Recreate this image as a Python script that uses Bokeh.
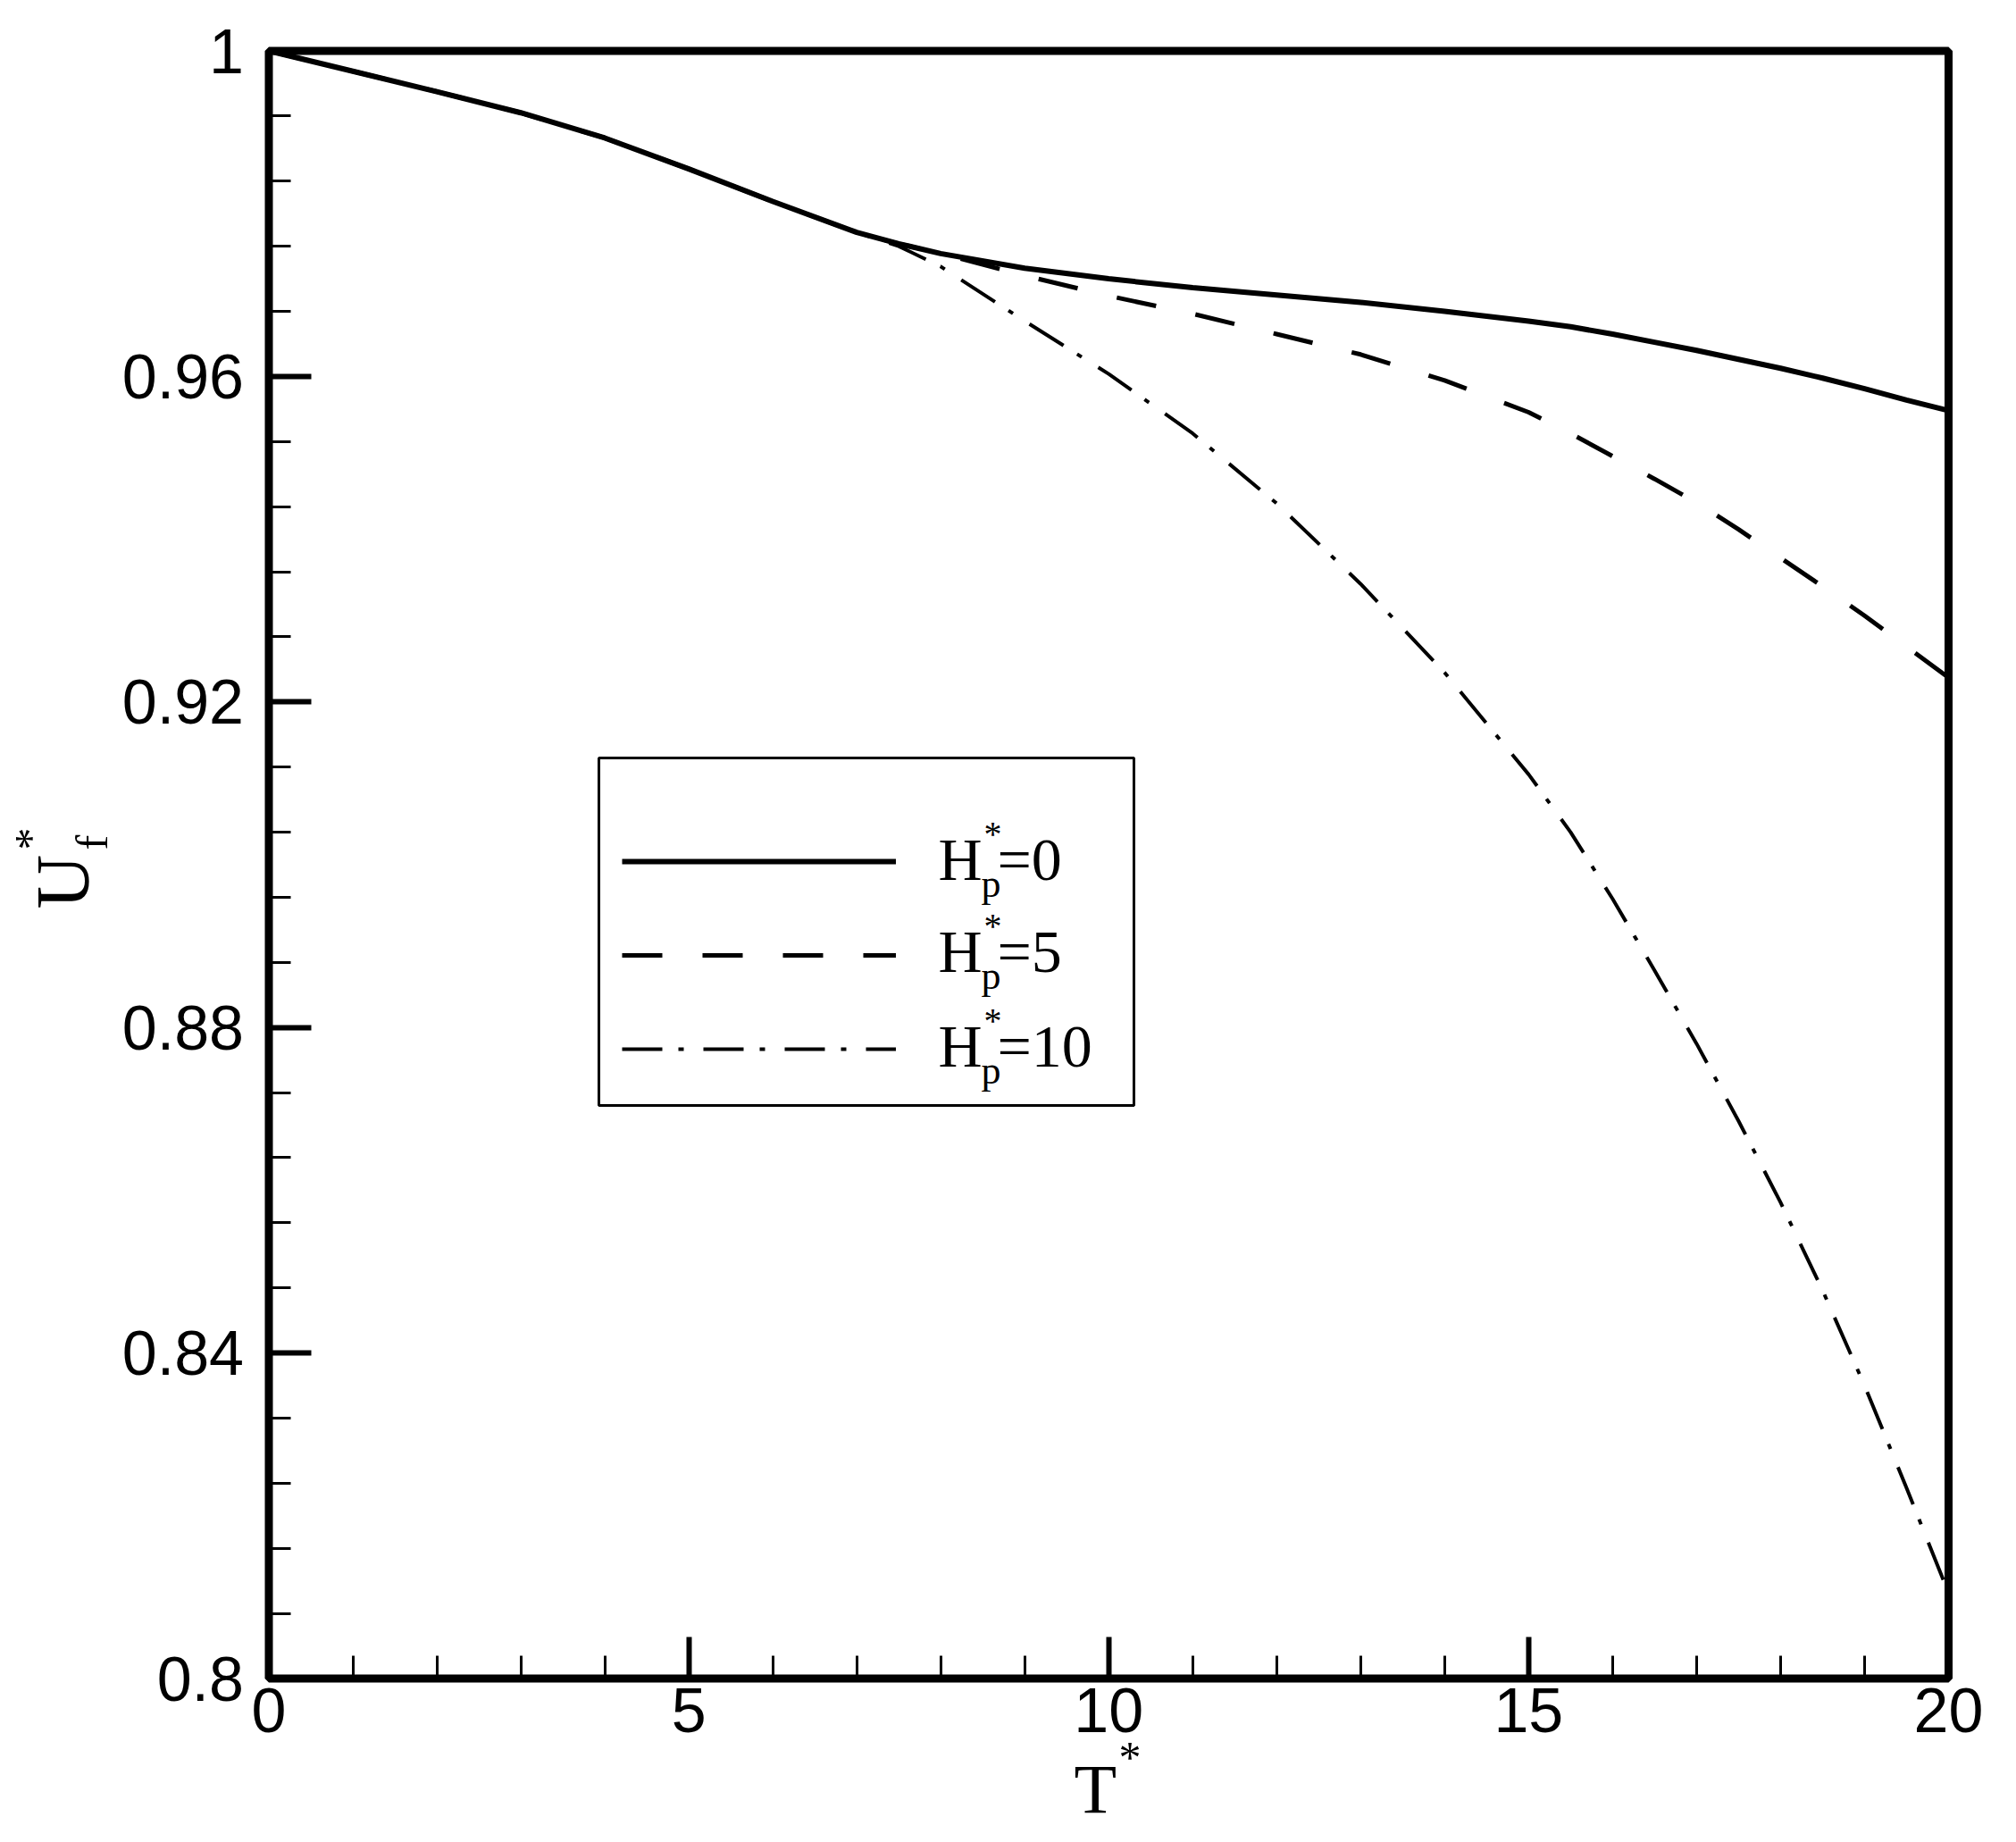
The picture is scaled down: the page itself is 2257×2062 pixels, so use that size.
import math
from bokeh.plotting import figure
from bokeh.models import (Range1d, FixedTicker, CustomJSTickFormatter, Label,
                          BoxAnnotation, Legend, LegendItem, LinearAxis)
from bokeh.embed import file_html
from bokeh.resources import INLINE

# ---------------- data ----------------
T = [0, 1, 2, 3, 4, 5, 6, 7, 7.5, 8, 9, 10, 11, 12, 13, 14, 15, 15.5, 16,
     16.5, 17, 17.5, 18, 18.5, 19, 19.5, 20]

U_hp0 = [1.0, 0.9975, 0.9950, 0.9924, 0.9893, 0.9855, 0.9815, 0.9777, 0.9763,
         0.9751, 0.9733, 0.9720, 0.9709, 0.9700, 0.9691, 0.9680, 0.9668, 0.9661,
         0.9652, 0.9642, 0.9632, 0.9621, 0.9610, 0.9598, 0.9585, 0.9571, 0.9558]

U_hp5 = [1.0, 0.9975, 0.9950, 0.9924, 0.9893, 0.9855, 0.9815, 0.9777, 0.9763,
         0.9751, 0.9724, 0.9699, 0.9677, 0.9652, 0.9627, 0.9595, 0.9556, 0.9530,
         0.9502, 0.9474, 0.9445, 0.9412, 0.9377, 0.9342, 0.9306, 0.9268, 0.9230]

U_hp10 = [1.0, 0.9975, 0.9950, 0.9924, 0.9893, 0.9855, 0.9815, 0.9777, 0.9760,
          0.9735, 0.9668, 0.9603, 0.9530, 0.9444, 0.9345, 0.9236, 0.9111, 0.9040,
          0.8958, 0.8870, 0.8780, 0.8685, 0.8585, 0.8477, 0.8360, 0.8234, 0.8105]

hp_values = ["0", "5", "10"]

x_ticks = [0, 5, 10, 15, 20]
x_tick_labels = ["0", "5", "10", "15", "20"]
x_minor = [i for i in range(0, 21)]
y_ticks = [0.8, 0.84, 0.88, 0.92, 0.96, 1.0]
y_tick_labels = ["0.8", "0.84", "0.88", "0.92", "0.96", "1"]
y_minor = [round(0.8 + 0.008 * i, 3) for i in range(26)]

X0, X1, Y0, Y1 = 0.0, 20.0, 0.8, 1.0

# ---------------- layout (canvas pixels) ----------------
W, H = 2241, 2046
BOX_L, BOX_R, BOX_T, BOX_B = 300.5, 2181.0, 56.5, 1878.5
ppx = (BOX_R - BOX_L) / (X1 - X0)
ppy = (BOX_B - BOX_T) / (Y1 - Y0)
xs, xe = X0 - BOX_L / ppx, X1 + (W - BOX_R) / ppx
ys, ye = Y0 - (H - BOX_B) / ppy, Y1 + BOX_T / ppy


def xd(px):  # canvas pixel -> data x
    return xs + px / W * (xe - xs)


def yd(py):  # canvas pixel -> data y
    return ye - py / H * (ye - ys)


p = figure(frame_width=W, frame_height=H, min_border=0,
           x_range=Range1d(xs, xe), y_range=Range1d(ys, ye),
           x_axis_location=None, y_axis_location=None,
           output_backend="svg", toolbar_location=None,
           background_fill_color="white", border_fill_color="white")
p.grid.visible = False
p.outline_line_color = None

fmt_js = """
for (let i = 0; i < tv.length; i++) {
  if (Math.abs(tick - tv[i]) < 1e-9) { return tl[i]; }
}
return '';
"""
xaxis = LinearAxis(fixed_location=Y0,
                   ticker=FixedTicker(ticks=x_ticks, minor_ticks=x_minor),
                   formatter=CustomJSTickFormatter(args=dict(tv=x_ticks, tl=x_tick_labels), code=fmt_js))
yaxis = LinearAxis(fixed_location=X0,
                   ticker=FixedTicker(ticks=y_ticks, minor_ticks=y_minor),
                   formatter=CustomJSTickFormatter(args=dict(tv=y_ticks, tl=y_tick_labels), code=fmt_js))
for ax in (xaxis, yaxis):
    ax.axis_line_color = None
    ax.major_tick_in = 47
    ax.major_tick_out = 0
    ax.major_tick_line_width = 6
    ax.major_tick_line_color = "black"
    ax.minor_tick_out = 0
    ax.minor_tick_line_width = 3
    ax.minor_tick_line_color = "black"
    ax.major_label_text_font = "Liberation Sans"
    ax.major_label_text_font_size = "70px"
    ax.major_label_text_color = "black"
xaxis.minor_tick_in = 26
yaxis.minor_tick_in = 24
xaxis.major_label_standoff = 11
yaxis.major_label_standoff = 28
p.add_layout(xaxis, "below")
p.add_layout(yaxis, "left")

# plot frame (thick black box around the data area)
p.add_layout(BoxAnnotation(left=X0, right=X1, bottom=Y0, top=Y1, fill_alpha=0,
                           line_color="black", line_alpha=1.0, line_width=9))

r0 = p.line(T, U_hp0, line_color="black", line_width=6)
r1 = p.line(T, U_hp5, line_color="black", line_width=5, line_dash="45 45")
r2 = p.line(T, U_hp10, line_color="black", line_width=4, line_dash="45 18 6 22")

# ---------------- legend ----------------
row_centers = [964, 1069, 1174]
legend = Legend(items=[LegendItem(label=" ", renderers=[r]) for r in (r0, r1, r2)],
                location=(696, H - (row_centers[-1] + 40)),
                orientation="vertical", glyph_width=307, glyph_height=80,
                label_width=0, label_height=80, label_standoff=0, spacing=25,
                padding=0, margin=0, border_line_alpha=0, background_fill_alpha=0,
                label_text_font_size="10px")
p.add_layout(legend)

p.add_layout(BoxAnnotation(left=xd(670), right=xd(1269), top=yd(848), bottom=yd(1237),
                           fill_alpha=0, line_color="black", line_alpha=1.0, line_width=3))

SERIF = "Liberation Serif"


def label(px, py, text, size, angle=0.0):
    return Label(x=xd(px), y=yd(py), text=text, text_font=SERIF,
                 text_font_size=size, text_color="black", angle=angle,
                 text_align="left", text_baseline="middle")


text_rows = [961, 1064, 1170]   # visual centre of "H" in each legend row
for yc, hv in zip(text_rows, hp_values):
    p.add_layout(label(1050, yc, "H", "68px"))
    p.add_layout(label(1101, yc - 28, "*", "40px"))
    p.add_layout(label(1098, yc + 28, "p", "44px"))
    p.add_layout(label(1116, yc, "=" + hv, "68px"))

# ---------------- axis titles ----------------
p.add_layout(label(1202, 2002, "T", "78px"))
p.add_layout(label(1252, 1966, "*", "50px"))
p.add_layout(label(70, 1017, "U", "84px", math.pi / 2))
p.add_layout(label(33, 951, "*", "50px", math.pi / 2))
p.add_layout(label(102, 951, "f", "50px", math.pi / 2))

open("out.html", "w").write(file_html(p, INLINE))
